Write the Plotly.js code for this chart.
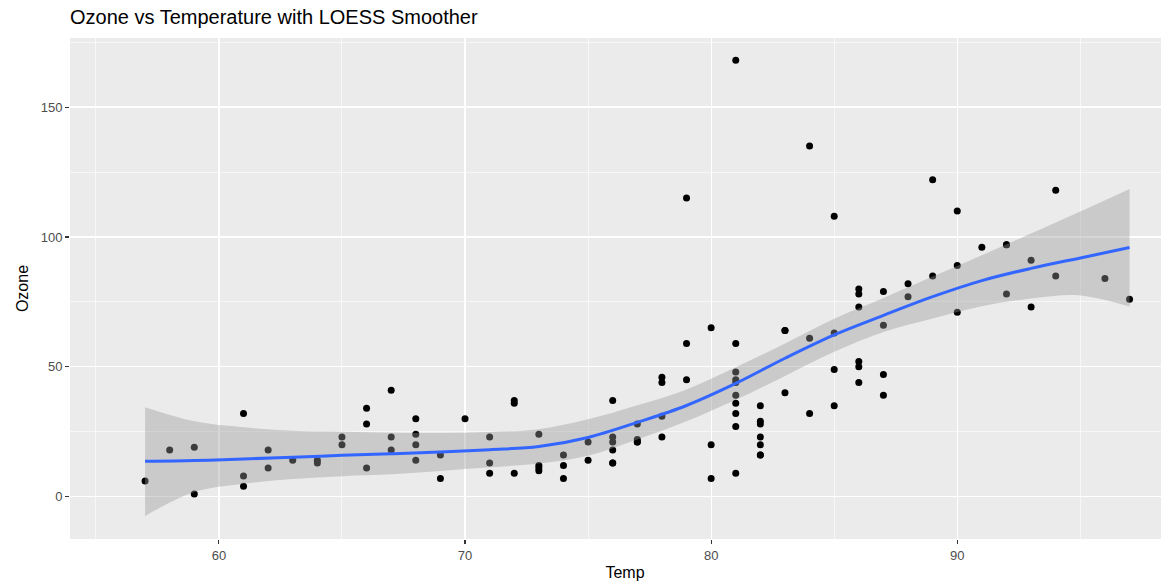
<!DOCTYPE html>
<html>
<head>
<meta charset="utf-8">
<script src="https://cdn.plot.ly/plotly-3.0.1.min.js"></script>
<style>
html,body{margin:0;padding:0;overflow:hidden;background:#fff;}
#chart{width:1190px;height:582px;}
</style>
</head>
<body>
<div id="chart"></div>
<script>
// Observed data (Temp, Ozone)
var temp  = [67,72,74,62,66,65,59,61,74,69,66,68,58,64,66,57,68,62,59,73,61,61,67,81,79,76,82,90,87,82,77,72,65,73,76,84,85,81,83,83,88,92,92,89,73,81,80,81,82,84,87,85,74,86,85,82,86,88,86,83,81,81,81,82,86,85,87,89,90,90,86,82,80,77,79,76,78,78,77,72,79,81,86,97,94,96,94,91,92,93,93,87,84,80,78,75,73,81,76,77,71,71,78,67,76,68,82,64,71,81,69,63,70,75,76,68];
var ozone = [41,36,12,18,28,23,19,8,7,16,11,14,18,14,34,6,30,11,1,11,4,32,23,45,115,37,29,71,39,23,21,37,20,12,13,135,49,32,64,40,77,97,97,85,10,27,7,48,35,61,79,63,16,80,108,20,52,82,50,64,59,39,9,16,78,35,66,122,89,110,44,28,65,22,59,23,31,44,21,9,45,168,73,76,118,84,85,96,78,73,91,47,32,20,23,21,24,44,21,28,9,13,46,18,13,24,16,13,23,36,7,14,30,14,18,20];

// LOESS smoother
var smoothTemp  = [57,59,61,63,65,67,69,71,73,75,77,79,81,83,85,87,89,91,93,95,97];
var smoothFit   = [13.6,13.9,14.5,15.2,15.9,16.5,17.2,18.1,19.3,22.8,28.6,35.1,43.6,53.3,62.3,69.8,77.0,83.2,87.9,91.9,95.9];
var smoothLower = [-7.4,1.8,5.0,6.8,7.9,8.6,9.9,11.3,12.8,15.8,22.0,29.0,37.3,46.5,55.8,63.4,68.6,73.3,76.3,77.5,73.2];
var smoothUpper = [34.4,29.0,26.7,25.4,25.0,24.6,24.5,24.9,26.0,29.8,35.2,41.3,49.8,59.0,68.5,76.5,84.8,93.0,101.3,109.8,118.5];

var xTicks = [60,70,80,90];
var yTicks = [0,50,100,150];

var traces = [
  {type:'scatter', mode:'markers', x:temp, y:ozone,
   marker:{color:'#000000', size:7}, hoverinfo:'x+y'},
  {type:'scatter', mode:'lines', x:smoothTemp, y:smoothLower,
   line:{width:0, shape:'spline', color:'rgba(0,0,0,0)'}, hoverinfo:'skip'},
  {type:'scatter', mode:'lines', x:smoothTemp, y:smoothUpper, fill:'tonexty',
   fillcolor:'rgba(153,153,153,0.4)',
   line:{width:0, shape:'spline', color:'rgba(0,0,0,0)'}, hoverinfo:'skip'},
  {type:'scatter', mode:'lines', x:smoothTemp, y:smoothFit,
   line:{color:'#3366FF', width:3, shape:'spline'}, hoverinfo:'x+y'}
];

var fontFam = '"Liberation Sans", Arial, Helvetica, sans-serif';
var layout = {
  width:1190, height:582,
  margin:{l:70, r:10, t:38, b:43},
  paper_bgcolor:'#FFFFFF',
  plot_bgcolor:'#EBEBEB',
  showlegend:false,
  font:{family:fontFam, color:'#4D4D4D', size:13},
  title:{text:'Ozone vs Temperature with LOESS Smoother',
         x:70/1190, xref:'container', xanchor:'left',
         y:1-17/582, yref:'container', yanchor:'middle',
         font:{family:fontFam, size:20, color:'#000000'}},
  xaxis:{range:[53.95,99.05], tickvals:xTicks, ticktext:xTicks.map(String),
         showgrid:true, gridcolor:'#FFFFFF', gridwidth:1.2,
         minor:{tickvals:[55,65,75,85,95], showgrid:true, gridcolor:'#FFFFFF', gridwidth:0.6, ticks:''},
         zeroline:false, showline:false,
         ticks:'outside', ticklen:4, tickwidth:1.1, tickcolor:'#333333',
         tickfont:{family:fontFam, size:13, color:'#4D4D4D'},
         title:{text:'Temp', standoff:5, font:{family:fontFam, size:16, color:'#000000'}}},
  yaxis:{range:[-16.3,176.6], tickvals:yTicks, ticktext:yTicks.map(String),
         showgrid:true, gridcolor:'#FFFFFF', gridwidth:1.2,
         minor:{tickvals:[25,75,125,175], showgrid:true, gridcolor:'#FFFFFF', gridwidth:0.6, ticks:''},
         zeroline:false, showline:false,
         ticks:'outside', ticklen:4, tickwidth:1.1, tickcolor:'#333333',
         tickfont:{family:fontFam, size:13, color:'#4D4D4D'},
         title:{text:'Ozone', standoff:8, font:{family:fontFam, size:16, color:'#000000'}}}
};

Plotly.newPlot('chart', traces, layout, {displayModeBar:false, staticPlot:true});
</script>
</body>
</html>
